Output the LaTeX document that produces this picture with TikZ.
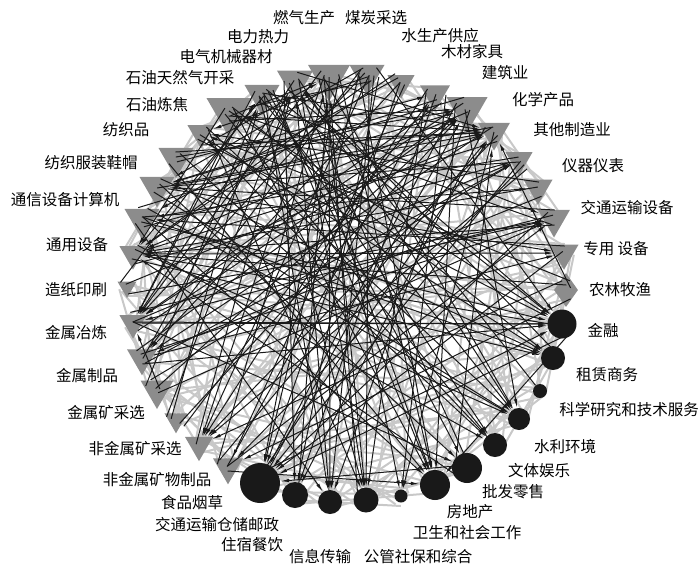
\documentclass[tikz,border=0pt]{standalone}
\usepackage{fontspec}
\setmainfont{Noto Sans CJK SC}
\usetikzlibrary{shapes.geometric,arrows.meta,calc}
\pgfdeclarelayer{background}
\pgfsetlayers{background,main}
\definecolor{trigray}{RGB}{140,140,140}
\definecolor{edgegray}{RGB}{200,200,200}
\definecolor{blk}{RGB}{25,25,25}
\begin{document}
\begin{tikzpicture}[x=1pt,y=-1pt,
  tri/.style={regular polygon,regular polygon sides=3,shape border rotate=180,fill=trigray,draw=none,inner sep=0pt},
  dia/.style={diamond,fill=trigray,draw=none,inner sep=0pt,minimum width=24pt,minimum height=34pt},
  dot/.style={circle,fill=blk,draw=none,inner sep=0pt},
  lab/.style={inner sep=0pt,font=\fontsize{15.5}{18}\selectfont},
  grayline/.style={draw=edgegray,line width=2pt},
  blkarrow/.style={draw=blk,line width=1pt,-{Latex[length=9pt,width=3.4pt]}}]
\useasboundingbox (0,0) rectangle (700,566);
% triangles
\node[tri,minimum size=48.5pt] (n1) at (329,77) {};
\node[tri,minimum size=40.4pt] (n2) at (367,75) {};
\node[tri,minimum size=31.2pt] (n3) at (401,83) {};
\node[tri,minimum size=34.6pt] (n4) at (435,94) {};
\node[tri,minimum size=47.4pt] (n5) at (467,109) {};
\node[tri,minimum size=37pt] (n6) at (494,132) {};
\node[tri,minimum size=31.2pt] (n7) at (519,160) {};
\node[tri,minimum size=33.5pt] (n8) at (538,188) {};
\node[tri,minimum size=37pt] (n9) at (554,219) {};
\node[tri,minimum size=33.5pt] (n10) at (564,253) {};
\node[dia] (n11) at (566,290) {};
\node[dot,minimum size=29pt] (n12) at (562,324) {};
\node[dot,minimum size=24pt] (n13) at (553,358) {};
\node[dot,minimum size=14pt] (n14) at (540,391) {};
\node[dot,minimum size=22pt] (n15) at (519,419) {};
\node[dot,minimum size=24pt] (n16) at (495,445) {};
\node[dot,minimum size=30pt] (n17) at (467,468) {};
\node[dot,minimum size=30pt] (n18) at (435,485) {};
\node[dot,minimum size=13pt] (n19) at (401,496) {};
\node[dot,minimum size=25pt] (n20) at (366,500) {};
\node[dot,minimum size=24pt] (n21) at (330,502) {};
\node[dot,minimum size=26pt] (n22) at (295,495) {};
\node[dot,minimum size=40pt] (n23) at (260,483) {};
\node[tri,minimum size=34.6pt] (n24) at (228,467) {};
\node[tri,minimum size=32.3pt] (n25) at (199,445) {};
\node[tri,minimum size=26.6pt] (n26) at (176,420) {};
\node[tri,minimum size=38pt] (n27) at (157,390) {};
\node[tri,minimum size=34.6pt] (n28) at (142,358) {};
\node[tri,minimum size=31.2pt] (n29) at (133,323) {};
\node[tri,minimum size=22pt] (n30) at (127,287) {};
\node[tri,minimum size=31.2pt] (n31) at (133,254) {};
\node[tri,minimum size=40.4pt] (n32) at (142,219) {};
\node[tri,minimum size=40.4pt] (n33) at (157,187) {};
\node[tri,minimum size=40.4pt] (n34) at (176,158) {};
\node[tri,minimum size=31.2pt] (n35) at (201,133) {};
\node[tri,minimum size=52pt] (n36) at (229,111) {};
\node[tri,minimum size=40.4pt] (n37) at (262,95) {};
\node[tri,minimum size=41.6pt] (n38) at (295,81) {};
% labels
\node[lab] (l1) at (304,18) {燃气生产};
\node[lab] (l2) at (376,18) {煤炭采选};
\node[lab] (l3) at (440,36) {水生产供应};
\node[lab] (l4) at (472,52) {木材家具};
\node[lab] (l5) at (505,73) {建筑业};
\node[lab] (l6) at (543,100) {化学产品};
\node[lab] (l7) at (572,130) {其他制造业};
\node[lab] (l8) at (593,166) {仪器仪表};
\node[lab] (l9) at (627,208) {交通运输设备};
\node[lab] (l10) at (616,249) {专用 设备};
\node[lab] (l11) at (620,290) {农林牧渔};
\node[lab] (l12) at (603,331) {金融};
\node[lab] (l13) at (607,375) {租赁商务};
\node[lab] (l14) at (629,410) {科学研究和技术服务};
\node[lab] (l15) at (565,447) {水利环境};
\node[lab] (l16) at (539,471) {文体娱乐};
\node[lab] (l17) at (513,492) {批发零售};
\node[lab] (l18) at (470,512) {房地产};
\node[lab] (l19) at (467,533) {卫生和社会工作};
\node[lab] (l20) at (418,557) {公管社保和综合};
\node[lab] (l21) at (320,557) {信息传输};
\node[lab] (l22) at (252,545) {住宿餐饮};
\node[lab] (l23) at (217,525) {交通运输仓储邮政};
\node[lab] (l24) at (192,503) {食品烟草};
\node[lab] (l25) at (157,480) {非金属矿物制品};
\node[lab] (l26) at (135,449) {非金属矿采选};
\node[lab] (l27) at (106,413) {金属矿采选};
\node[lab] (l28) at (87,376) {金属制品};
\node[lab] (l29) at (76,333) {金属冶炼};
\node[lab] (l30) at (76,290) {造纸印刷};
\node[lab] (l31) at (77,245) {通用设备};
\node[lab] (l32) at (65,200) {通信设备计算机};
\node[lab] (l33) at (91,163) {纺织服装鞋帽};
\node[lab] (l34) at (126,130) {纺织品};
\node[lab] (l35) at (157,105) {石油炼焦};
\node[lab] (l36) at (180,78) {石油天然气开采};
\node[lab] (l37) at (226,57) {电气机械器材};
\node[lab] (l38) at (258,37) {电力热力};
% gray edges (end points spread a little over each node)
\begin{pgfonlayer}{background}
\foreach \i in {1,...,38}{
  \foreach \k in {3,4,6,8,10,12,14,16,18,19}{
    \pgfmathtruncatemacro\j{mod(\i+\k-1,38)+1}
    \pgfmathtruncatemacro\r{mod(\i*\i*3+\k*5+\i*\k,7)}
    \pgfmathtruncatemacro\da{mod(\i*5+\k*3,21)-10}
    \pgfmathtruncatemacro\db{mod(\i*3+\k*7,21)-10}
    \ifnum\r<4
      \draw[grayline] ($(n\i.center)!\da pt!90:(n\j.center)$) -- ($(n\j.center)!\db pt!-90:(n\i.center)$);
    \fi
  }
}
\end{pgfonlayer}
% black arrows (start point spread over the source node)
\foreach \s/\t in {2/31,5/31,6/31,9/31,11/31,17/31,8/31,37/31,3/31,36/31,
  1/29,2/29,38/29,4/29,5/29,9/29,27/29,36/29,37/29,29/12,
  36/6,35/6,37/6,34/6,33/6,32/6,24/6,30/6,38/6,11/6,17/6,23/6,
  1/23,2/23,3/23,5/23,7/23,9/23,10/23,12/23,17/23,
  36/18,38/18,1/18,2/18,5/18,32/18,12/18,34/18,24/18,
  36/12,37/12,38/12,32/12,2/12,35/12,23/12,28/12,
  37/15,38/15,1/15,32/15,31/15,5/15,35/15,33/15,
  36/1,35/1,24/1,20/1,22/1,
  21/38,17/38,25/38,26/38,28/38,13/38,
  1/25,2/25,4/25,7/25,11/25,
  6/33,4/33,5/33,7/33,9/33,2/33,
  29/5,28/5,27/5,26/5,32/5,34/5,36/5,23/5,24/4,
  38/20,37/20,2/20,35/20,4/20,
  1/19,6/19,4/19,
  36/16,37/17,33/17,29/17,
  37/16,34/16,31/16,
  2/22,4/22,38/22,6/22,
  1/21,37/21,5/21,32/21,
  36/13,35/13,33/13,31/13,
  29/9,27/9,37/9,30/9,24/9,
  6/28,2/28,3/28,8/28,
  7/32,10/32,3/32,
  27/37,30/37,26/37,
  2/35,11/35,8/35,
  11/24,3/24,7/24,
  34/4,26/4,
  29/7,28/7,31/7,27/7,
  32/8,
  2/36,9/36,
  1/20,32/13,28/9,2/21,37/18,16/35,6/25,12/31}{
  \pgfmathtruncatemacro\d{mod(\s*7+\t*5,25)-12}
  \draw[blkarrow] ($(n\s.center)!\d pt!90:(n\t.center)$) -- (n\t);
}
% straight horizontal links
\draw[blkarrow] (n31) -- (n10);
\draw[blkarrow] (n29) -- (n12);
\draw[blkarrow] (n28) -- (n10);
\draw[blkarrow] (n33) -- (n10);
\draw[blkarrow] (n14) -- (n38);
\end{tikzpicture}
\end{document}
